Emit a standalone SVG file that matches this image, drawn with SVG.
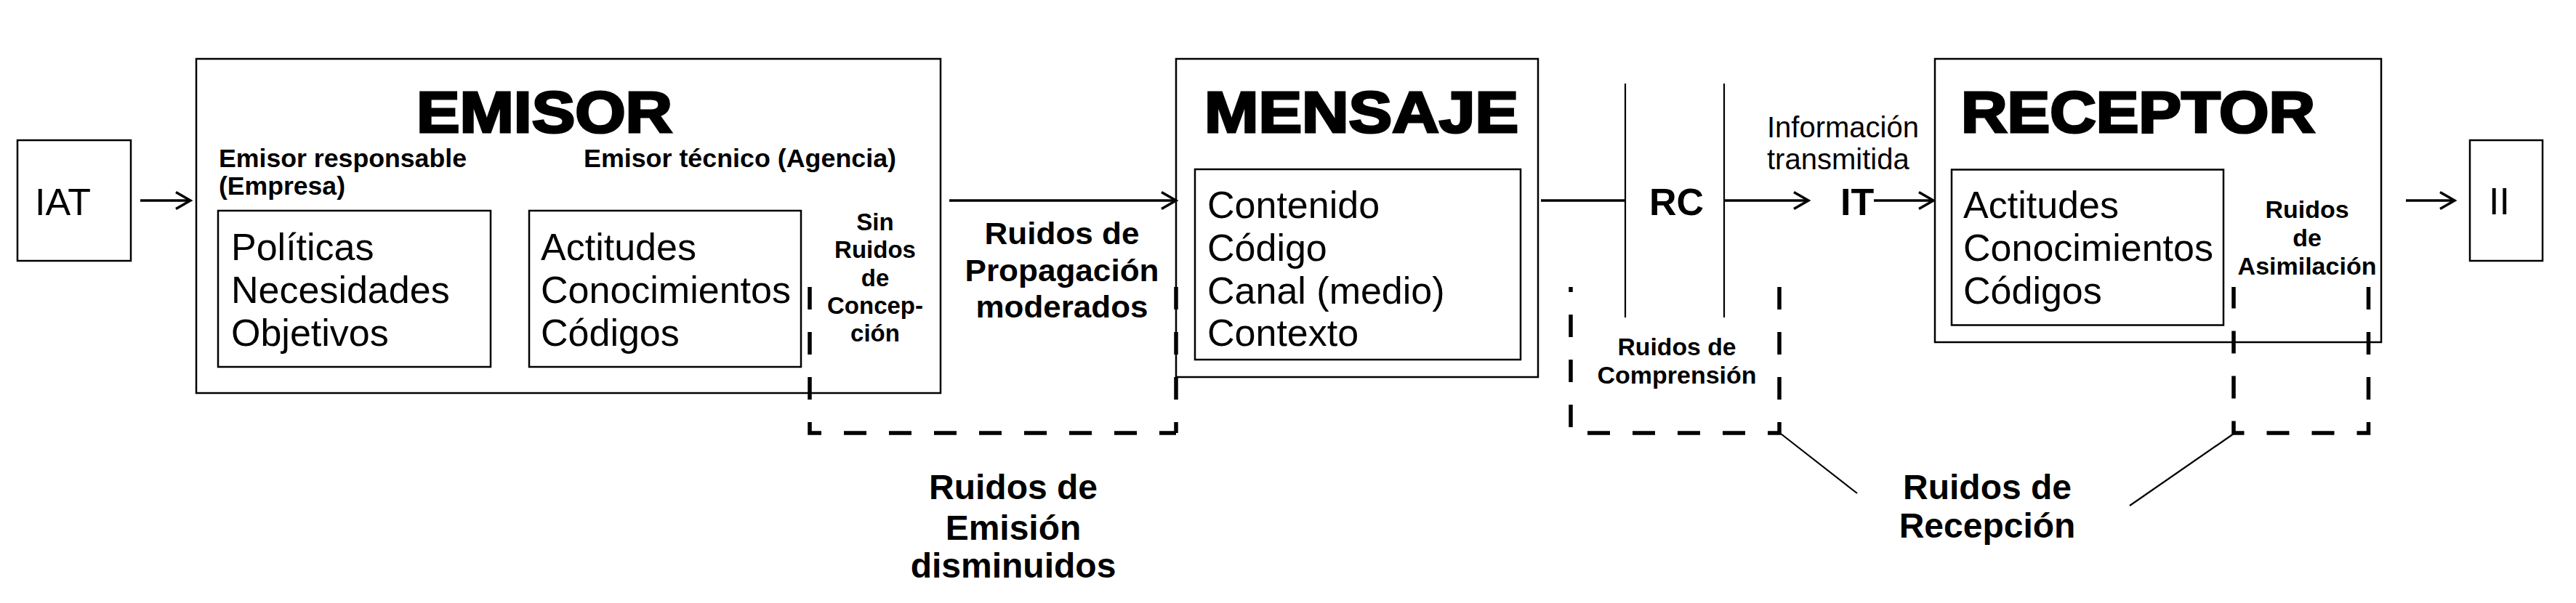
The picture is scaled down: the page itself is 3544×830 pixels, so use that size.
<svg xmlns="http://www.w3.org/2000/svg" width="3544" height="830" viewBox="0 0 3544 830">
<style>
text{font-family:"Liberation Sans",Arial,sans-serif;fill:#000}
.reg{font-size:52px}
.title{font-size:80px;font-weight:bold;stroke:#000;stroke-width:3.2;stroke-linejoin:miter}
.b34{font-size:35px;font-weight:bold}
.b33{font-size:33px;font-weight:bold;text-anchor:middle}
.b42{font-size:42px;font-weight:bold;text-anchor:middle}
.b48{font-size:48px;font-weight:bold;text-anchor:middle}
.b52{font-size:52px;font-weight:bold}
.box{fill:none;stroke:#000;stroke-width:2.5}
.ln{fill:none;stroke:#000;stroke-width:3.5}
.thin{fill:none;stroke:#000;stroke-width:2.2}
.dash{fill:none;stroke:#000;stroke-width:5.5;stroke-dasharray:31 31}
</style>
<defs>
<marker id="arr" viewBox="-26 -16 30 32" refX="0" refY="0" markerWidth="30" markerHeight="32" markerUnits="userSpaceOnUse" orient="auto">
<path d="M-20,-11.5 L0,0 L-20,11.5" fill="none" stroke="#000" stroke-width="3.5"/>
</marker>
</defs>
<rect width="3544" height="830" fill="#fff"/>

<g id="iat">
<rect class="box" x="24" y="193" width="156" height="166"/>
<text class="reg" x="48" y="296">IAT</text>
</g>

<g id="emisor">
<rect class="box" x="270" y="81" width="1024" height="460"/>
<text class="title" x="573" y="182" textLength="352" lengthAdjust="spacingAndGlyphs">EMISOR</text>
<text class="b34" x="301" y="230" textLength="341" lengthAdjust="spacingAndGlyphs">Emisor responsable</text>
<text class="b34" x="301" y="268" textLength="174" lengthAdjust="spacingAndGlyphs">(Empresa)</text>
<text class="b34" x="803" y="230" textLength="430" lengthAdjust="spacingAndGlyphs">Emisor técnico (Agencia)</text>
<rect class="box" x="300" y="290" width="375" height="215"/>
<text class="reg" x="318" y="358">Políticas</text>
<text class="reg" x="318" y="417">Necesidades</text>
<text class="reg" x="318" y="476">Objetivos</text>
<rect class="box" x="728" y="290" width="374" height="215"/>
<text class="reg" x="744" y="358">Actitudes</text>
<text class="reg" x="744" y="417">Conocimientos</text>
<text class="reg" x="744" y="476">Códigos</text>
<text class="b33" x="1204" y="317">Sin</text>
<text class="b33" x="1204" y="355">Ruidos</text>
<text class="b33" x="1204" y="394">de</text>
<text class="b33" x="1204" y="432">Concep-</text>
<text class="b33" x="1204" y="470">ción</text>
</g>

<g id="mensaje">
<rect class="box" x="1618" y="81" width="498" height="438"/>
<text class="title" x="1657" y="182" textLength="432" lengthAdjust="spacingAndGlyphs">MENSAJE</text>
<rect class="box" x="1644" y="233" width="448" height="262"/>
<text class="reg" x="1661" y="300">Contenido</text>
<text class="reg" x="1661" y="359">Código</text>
<text class="reg" x="1661" y="418">Canal (medio)</text>
<text class="reg" x="1661" y="476">Contexto</text>
</g>

<g id="rc">
<line class="thin" x1="2236" y1="115" x2="2236" y2="437"/>
<line class="thin" x1="2372" y1="115" x2="2372" y2="437"/>
<text class="b52" x="2269" y="296">RC</text>
</g>

<g id="it">
<text class="reg" x="2431" y="189" style="font-size:40px">Información</text>
<text class="reg" x="2431" y="233" style="font-size:40px">transmitida</text>
<text class="b52" x="2532" y="296">IT</text>
</g>

<g id="receptor">
<rect class="box" x="2662" y="81" width="614" height="390"/>
<text class="title" x="2698" y="182" textLength="487" lengthAdjust="spacingAndGlyphs">RECEPTOR</text>
<rect class="box" x="2685" y="233.5" width="374" height="214"/>
<text class="reg" x="2701" y="300">Actitudes</text>
<text class="reg" x="2701" y="359">Conocimientos</text>
<text class="reg" x="2701" y="418">Códigos</text>
<text class="b33" x="3174" y="300" style="font-size:34px">Ruidos</text>
<text class="b33" x="3174" y="339" style="font-size:34px">de</text>
<text class="b33" x="3174" y="378" style="font-size:34px">Asimilación</text>
</g>

<g id="ii">
<rect class="box" x="3398" y="193" width="100" height="166"/>
<text class="reg" x="3424" y="295">II</text>
</g>

<g id="ruidos-emision">
<path class="dash" d="M1114,395 V596 H1618"/>
<path class="dash" d="M1618,395 V596"/>
<text class="b48" x="1394" y="687">Ruidos de</text>
<text class="b48" x="1394" y="743">Emisión</text>
<text class="b48" x="1394" y="795">disminuidos</text>
</g>

<g id="ruidos-propagacion">
<text class="b42" x="1461" y="336" textLength="213" lengthAdjust="spacingAndGlyphs">Ruidos de</text>
<text class="b42" x="1461" y="387" textLength="267" lengthAdjust="spacingAndGlyphs">Propagación</text>
<text class="b42" x="1461" y="437" textLength="237" lengthAdjust="spacingAndGlyphs">moderados</text>
</g>

<g id="ruidos-comprension">
<path class="dash" d="M2448,395 V596 H2161 V395"/>
<text class="b33" x="2307" y="489" textLength="163" lengthAdjust="spacingAndGlyphs">Ruidos de</text>
<text class="b33" x="2307" y="528" textLength="219" lengthAdjust="spacingAndGlyphs">Comprensión</text>
</g>

<g id="ruidos-asimilacion-box">
<path class="dash" d="M3258.5,395 V596 H3073 V395"/>
</g>

<g id="ruidos-recepcion">
<text class="b48" x="2734" y="687">Ruidos de</text>
<text class="b48" x="2734" y="740">Recepción</text>
</g>

<g id="connectors">
<line class="ln" x1="193" y1="276" x2="262" y2="276" marker-end="url(#arr)"/>
<line class="ln" x1="1306" y1="276" x2="1618" y2="276" marker-end="url(#arr)"/>
<line class="ln" x1="2120" y1="276" x2="2236" y2="276"/>
<line class="ln" x1="2372" y1="276" x2="2488" y2="276" marker-end="url(#arr)"/>
<line class="ln" x1="2578" y1="276" x2="2660" y2="276" marker-end="url(#arr)"/>
<line class="ln" x1="3310" y1="276" x2="3377" y2="276" marker-end="url(#arr)"/>
<line class="thin" x1="2450" y1="597" x2="2555" y2="679"/>
<line class="thin" x1="3073" y1="597" x2="2930" y2="696"/>
</g>
</svg>
